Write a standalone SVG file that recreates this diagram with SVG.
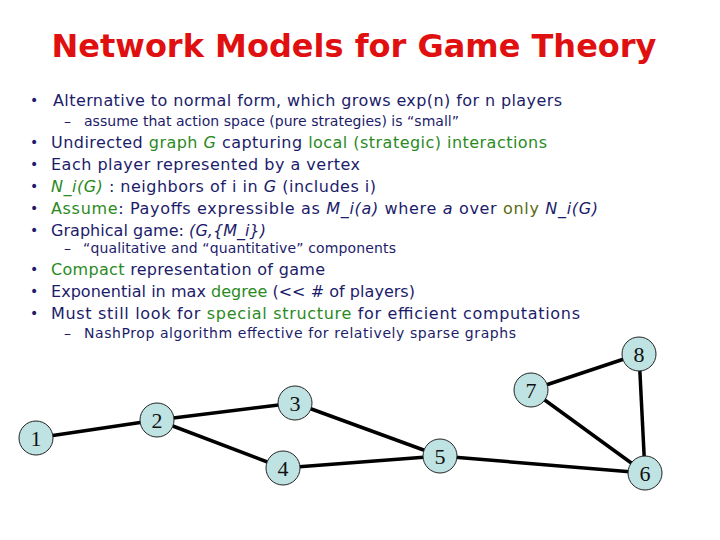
<svg xmlns="http://www.w3.org/2000/svg" width="720" height="540" viewBox="0 0 720 540">
<style>
text{font-family:"DejaVu Sans","Liberation Sans",sans-serif}
.t{fill:#1c1c6a;font-size:16px}
.s{fill:#1c1c6a;font-size:14px}
.g{fill:#2a8a1e}
.o{fill:#5a6a10}
.i{font-style:italic}
.b{fill:#1c1c6a;font-size:14px}
.n circle{fill:#bfe3e3;stroke:#222;stroke-width:1}
.n text{font-family:"Liberation Serif",serif;font-size:22px;fill:#111;text-anchor:middle}
.e line{stroke:#000;stroke-width:3.5}
</style>
<rect width="720" height="540" fill="#fff"/>
<text x="354" y="57" text-anchor="middle" style="font-size:32px;font-weight:bold;fill:#e01010">Network Models for Game Theory</text>
<g class="b"><text x="30" y="105">•</text><text x="30" y="147">•</text><text x="30" y="169">•</text><text x="30" y="191">•</text><text x="30" y="213">•</text><text x="30" y="235">•</text><text x="30" y="274">•</text><text x="30" y="296">•</text><text x="30" y="318">•</text></g>
<g class="s"><text x="64" y="126">–</text><text x="64" y="253">–</text><text x="64" y="338">–</text></g>
<text class="t" x="53" y="106" textLength="509">Alternative to normal form, which grows exp(n) for n players</text>
<text class="s" x="84" y="126" textLength="375">assume that action space (pure strategies) is “small”</text>
<text class="t" x="51" y="148" textLength="496">Undirected <tspan class="g">graph <tspan class="i">G</tspan></tspan> capturing <tspan class="g">local (strategic) interactions</tspan></text>
<text class="t" x="51" y="170" textLength="309">Each player represented by a vertex</text>
<text class="t" x="51" y="192" textLength="325"><tspan class="g i">N_i(G)</tspan> : neighbors of i in <tspan class="i">G</tspan> (includes i)</text>
<text class="t" x="51" y="214" textLength="547"><tspan class="g">Assume</tspan>: Payoffs expressible as <tspan class="i">M_i(a)</tspan> where <tspan class="i">a</tspan> over <tspan class="o">only</tspan> <tspan class="i">N_i(G)</tspan></text>
<text class="t" x="51" y="236" textLength="215">Graphical game: <tspan class="i">(G,{M_i})</tspan></text>
<text class="s" x="83" y="253" textLength="313">“qualitative and “quantitative” components</text>
<text class="t" x="51" y="275" textLength="274"><tspan class="g">Compact</tspan> representation of game</text>
<text class="t" x="51" y="297" textLength="364">Exponential in max <tspan class="g">degree</tspan> (&lt;&lt; # of players)</text>
<text class="t" x="51" y="319" textLength="529">Must still look for <tspan class="g">special structure</tspan> for efficient computations</text>
<text class="s" x="84" y="338" textLength="432">NashProp algorithm effective for relatively sparse graphs</text>
<g class="e" id="connectors">
<line x1="36" y1="438" x2="157" y2="420"/><line x1="157" y1="420" x2="295" y2="403"/><line x1="157" y1="420" x2="283" y2="468"/>
<line x1="295" y1="403" x2="440" y2="456"/><line x1="283" y1="468" x2="440" y2="456"/><line x1="440" y1="456" x2="645" y2="473"/>
<line x1="531" y1="390" x2="645" y2="473"/><line x1="531" y1="390" x2="639" y2="354"/><line x1="639" y1="354" x2="645" y2="473"/>
</g>
<g class="n" id="n1"><circle cx="36" cy="438" r="17"/><text x="36" y="446">1</text></g>
<g class="n" id="n2"><circle cx="157" cy="420" r="17"/><text x="157" y="428">2</text></g>
<g class="n" id="n3"><circle cx="295" cy="403" r="17"/><text x="295" y="411">3</text></g>
<g class="n" id="n4"><circle cx="283" cy="468" r="17"/><text x="283" y="476">4</text></g>
<g class="n" id="n5"><circle cx="440" cy="456" r="17"/><text x="440" y="464">5</text></g>
<g class="n" id="n6"><circle cx="645" cy="473" r="17"/><text x="645" y="481">6</text></g>
<g class="n" id="n7"><circle cx="531" cy="390" r="17"/><text x="531" y="398">7</text></g>
<g class="n" id="n8"><circle cx="639" cy="354" r="17"/><text x="639" y="362">8</text></g>
</svg>
